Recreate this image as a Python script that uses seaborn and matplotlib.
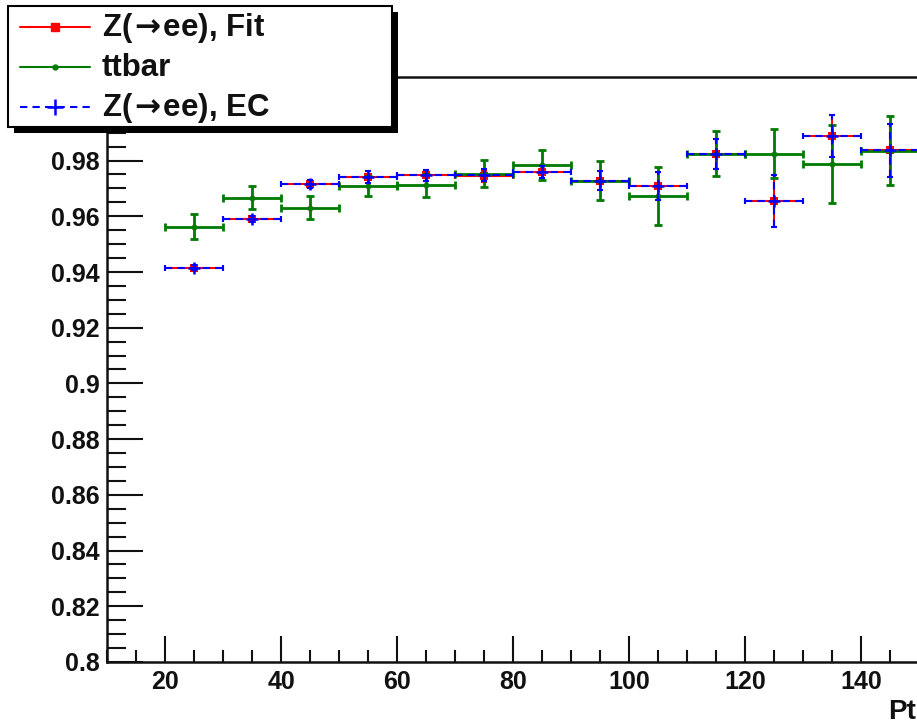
import numpy as np
import matplotlib
matplotlib.use("Agg")
import matplotlib.pyplot as plt
from matplotlib.lines import Line2D
from matplotlib.patches import Rectangle
from matplotlib.ticker import MultipleLocator, FixedLocator, FuncFormatter
import seaborn as sns

# Pt bins (GeV): centres and half widths
pt_centers = [25, 35, 45, 55, 65, 75, 85, 95, 105, 115, 125, 135, 145]
pt_halfwidth = [5] * 13

# Efficiency from the Z(->ee) fit method
eff_fit = [0.9413, 0.9589, 0.9717, 0.9741, 0.9747, 0.9743, 0.9759, 0.9728,
           0.9708, 0.9825, 0.9655, 0.9887, 0.9837]
err_fit = [0.0009, 0.0010, 0.0015, 0.0020, 0.0020, 0.0020, 0.0022, 0.0034,
           0.0050, 0.0054, 0.0092, 0.0075, 0.0096]

# Efficiency from ttbar simulation
eff_ttbar = [0.9562, 0.9667, 0.9631, 0.9709, 0.9711, 0.9753, 0.9783, 0.9728,
             0.9672, 0.9825, 0.9825, 0.9787, 0.9835]
err_ttbar = [0.0045, 0.0040, 0.0041, 0.0036, 0.0040, 0.0048, 0.0054, 0.0070,
             0.0104, 0.0082, 0.0087, 0.0139, 0.0124]

# Efficiency from the Z(->ee) event counting method
eff_ec = [0.9416, 0.9590, 0.9717, 0.9741, 0.9747, 0.9748, 0.9759, 0.9728,
          0.9708, 0.9825, 0.9655, 0.9887, 0.9837]
err_ec = err_fit

arrow = r"$\hspace{-0.12}\rightarrow\hspace{-0.12}$"
labels = [f"Z({arrow}ee), Fit", "ttbar", f"Z({arrow}ee), EC"]
x_ticks = [20, 40, 60, 80, 100, 120, 140]
y_ticks = [0.8, 0.82, 0.84, 0.86, 0.88, 0.9, 0.92, 0.94, 0.96, 0.98, 1.0]
x_title = "Pt"

sns.set_theme(style="ticks")
plt.rcParams["font.family"] = ["Liberation Sans", "DejaVu Sans"]
plt.rcParams["font.weight"] = "bold"
plt.rcParams["mathtext.fontset"] = "dejavusans"

W, H = 917, 725
fig = plt.figure(figsize=(W / 100, H / 100), dpi=100)
fig.patch.set_facecolor("white")

# axes in pixel units; the frame runs on past the right edge of the canvas
left_px, bottom_px, top_px = 107, 63, 648
xmin, xmax = 10, 160
px_per_unit = 5.8
ax = fig.add_axes([left_px / W, bottom_px / H,
                   (xmax - xmin) * px_per_unit / W, (top_px - bottom_px) / H])
ax.set_facecolor("white")

red, green, blue = "#ff0000", "#007a00", "#0000ff"
dash = (0, (3.5, 2.5))

ax.errorbar(pt_centers, eff_fit, xerr=pt_halfwidth, yerr=err_fit, fmt="none",
            ecolor=red, elinewidth=1.5, capsize=2.5, capthick=1.5, zorder=2)
sns.scatterplot(x=pt_centers, y=eff_fit, marker="s", s=36, color=red,
                edgecolor=red, linewidth=0, ax=ax, zorder=3)

ax.errorbar(pt_centers, eff_ttbar, xerr=pt_halfwidth, yerr=err_ttbar,
            fmt="none", ecolor=green, elinewidth=2.0, capsize=3,
            capthick=2.0, zorder=4)
sns.scatterplot(x=pt_centers, y=eff_ttbar, marker="o", s=18, color=green,
                edgecolor=green, linewidth=0, ax=ax, zorder=5)

eb_ec = ax.errorbar(pt_centers, eff_ec, xerr=pt_halfwidth, yerr=err_ec,
                    fmt="none", ecolor=blue, elinewidth=1.5, capsize=2.5,
                    capthick=1.5, zorder=6)
for lc in eb_ec[2]:
    lc.set_linestyle(dash)
ax.plot(pt_centers, eff_ec, linestyle="none", marker="+", markersize=9,
        markeredgewidth=1.8, color=blue, zorder=7)

ax.set_xlim(xmin, xmax)
ax.set_ylim(0.8, 1.01)
ax.set_xlabel("")
ax.set_ylabel("")

ax.xaxis.set_major_locator(FixedLocator(x_ticks + [160]))
ax.xaxis.set_major_formatter(FuncFormatter(lambda v, p: f"{v:g}" if v in x_ticks else ""))
ax.xaxis.set_minor_locator(MultipleLocator(5))
ax.yaxis.set_major_locator(FixedLocator(y_ticks))
ax.yaxis.set_minor_locator(MultipleLocator(0.005))
ax.yaxis.set_major_formatter(FuncFormatter(lambda v, p: f"{v:g}"))

ax.tick_params(axis="both", which="both", direction="in", color="#111111",
               width=1.5, labelsize=18, labelcolor="#111111")
ax.tick_params(axis="x", which="major", length=19, pad=6)
ax.tick_params(axis="x", which="minor", length=9)
ax.tick_params(axis="y", which="major", length=26, pad=5)
ax.tick_params(axis="y", which="minor", length=14)
for lab in ax.get_xticklabels() + ax.get_yticklabels():
    lab.set_fontweight("bold")
for side in ["left", "bottom", "top", "right"]:
    ax.spines[side].set_color("#111111")
    ax.spines[side].set_linewidth(1.8)

fig.text(916 / W, 1 - 712 / H, x_title, fontsize=20, fontweight="bold",
         color="#111111", ha="right", va="center")


# legend box drawn in figure pixels, with a solid drop shadow
def px(x, y):
    return x / W, 1 - y / H


bx0, by0, bx1, by1 = 8, 6, 392, 127
shadow = 6
fig.add_artist(Rectangle(px(bx0 + shadow, by1 + shadow),
                         (bx1 - bx0) / W, (by1 - by0) / H,
                         transform=fig.transFigure, facecolor="black",
                         edgecolor="black", linewidth=0, zorder=20))
fig.add_artist(Rectangle(px(bx0, by1), (bx1 - bx0) / W, (by1 - by0) / H,
                         transform=fig.transFigure, facecolor="white",
                         edgecolor="black", linewidth=1.5, zorder=21))

row_y = [27, 67, 107]
styles = [
    dict(color=red, lw=1.5, marker="s", markersize=6),
    dict(color=green, lw=1.5, marker="o", markersize=3.5),
    dict(color=blue, lw=1.5, linestyle=dash, marker="+", markersize=12,
         markeredgewidth=1.8),
]
for yy, lab, st in zip(row_y, labels, styles):
    (xa, ya), (xb, _) = px(20, yy), px(90, yy)
    line_style = {k: v for k, v in st.items()
                  if k not in ("marker", "markersize", "markeredgewidth")}
    fig.add_artist(Line2D([xa, xb], [ya, ya], transform=fig.transFigure,
                          zorder=22, **line_style))
    xm, _ = px(55, yy)
    fig.add_artist(Line2D([xm], [ya], transform=fig.transFigure,
                          linestyle="none", zorder=23,
                          **{k: v for k, v in st.items() if k not in ("lw", "linestyle")}))
    fig.text(*px(102, yy + 1), lab, fontsize=22.5, fontweight="bold",
             color="#111111", ha="left", va="center", zorder=24)

fig.savefig("out.png", dpi=100, facecolor="white")
